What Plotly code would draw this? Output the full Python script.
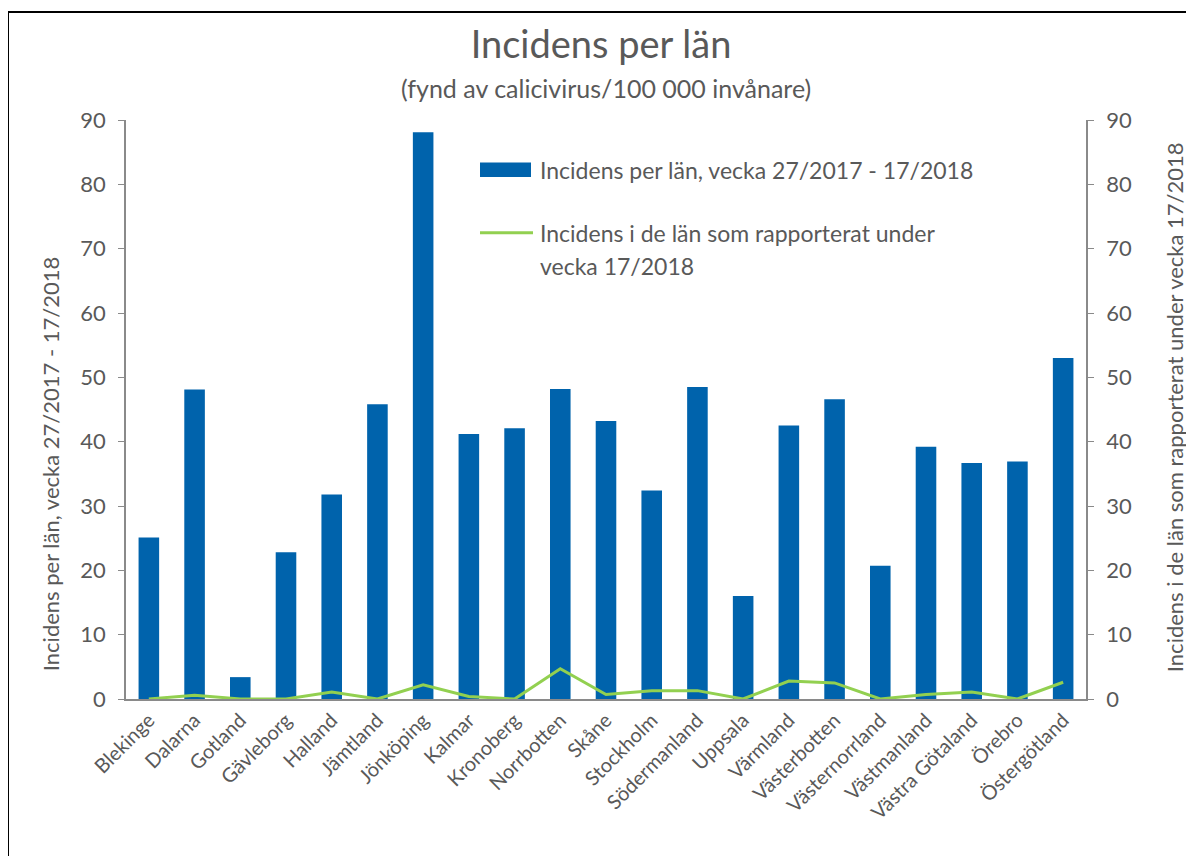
import plotly.graph_objects as go

lan = ["Blekinge", "Dalarna", "Gotland", "Gävleborg", "Halland", "Jämtland", "Jönköping",
       "Kalmar", "Kronoberg", "Norrbotten", "Skåne", "Stockholm", "Södermanland", "Uppsala",
       "Värmland", "Västerbotten", "Västernorrland", "Västmanland", "Västra Götaland",
       "Örebro", "Östergötland"]
incidens_period = [25.1, 48.1, 3.4, 22.8, 31.8, 45.8, 88.1, 41.2, 42.1, 48.2, 43.2, 32.4,
                   48.5, 16.0, 42.5, 46.6, 20.7, 39.2, 36.7, 36.9, 53.0]
incidens_vecka = [0.0, 0.6, 0.0, 0.0, 1.1, 0.0, 2.2, 0.4, 0.0, 4.7, 0.7, 1.3,
                  1.3, 0.0, 2.8, 2.5, 0.0, 0.7, 1.1, 0.0, 2.6]
y_ticks = [0, 10, 20, 30, 40, 50, 60, 70, 80, 90]
name_bar = "Incidens per län, vecka 27/2017 - 17/2018"
name_line_1 = "Incidens i de län som rapporterat under"
name_line_2 = "vecka 17/2018"

FONT = "Lato"
GREY = "#595959"
AXIS = "#8a8a8a"
BLUE = "#0063AC"
GREEN = "#92D050"

# page body has an 8px margin; layout below is in reference-image pixels
OFF = 8
PL, PR, PT, PB = 126, 1086, 120, 698.7  # plot area in reference pixels
W, H = 1194 - OFF, 856 - OFF


def px(x):
    return (x - PL) / (PR - PL)


def py(y):
    return (PB - y) / (PB - PT)


fig = go.Figure()
fig.add_trace(go.Bar(
    x=lan, y=incidens_period, name=name_bar,
    marker=dict(color=BLUE, line=dict(width=0)), width=0.45, yaxis="y"))
fig.add_trace(go.Scatter(
    x=lan, y=incidens_vecka, mode="lines", name=name_line_1 + " " + name_line_2,
    line=dict(color=GREEN, width=3), yaxis="y2"))


def note(text, x, y, size, angle=0, xanchor="left"):
    return dict(text=text, x=px(x), y=py(y), xref="paper", yref="paper",
                xanchor=xanchor, yanchor="middle", showarrow=False, textangle=angle,
                font=dict(size=size, color=GREY, family=FONT))


annotations = [
    note("(fynd av calicivirus/100 000 invånare)", (PL + PR) / 2, 88, 25, xanchor="center"),
    note(name_bar, 538, 169.5, 23),
    note(name_line_1, 538, 232.5, 23),
    note(name_line_2, 538, 265.5, 23),
    # axis titles
    note(name_bar, 50, 464, 22, angle=-90, xanchor="center"),
    note(name_line_1 + " " + name_line_2, 1174, 407, 22, angle=-90, xanchor="center"),
]

shapes = [
    dict(type="rect", xref="paper", yref="paper", x0=px(480), x1=px(531),
         y0=py(177), y1=py(162.5), line=dict(width=0), fillcolor=BLUE),
    dict(type="line", xref="paper", yref="paper", x0=px(480), x1=px(533),
         y0=py(232.7), y1=py(232.7), line=dict(color=GREEN, width=3)),
    dict(type="rect", xref="paper", yref="paper", x0=px(8), x1=1.3, y0=-0.5, y1=py(12),
         line=dict(color="black", width=2), fillcolor="rgba(0,0,0,0)", layer="above"),
]

fig.update_layout(
    width=W, height=H,
    margin=dict(l=PL - OFF, r=W - (PR - OFF), t=PT - OFF, b=H - (PB - OFF),
                autoexpand=False),
    paper_bgcolor="white", plot_bgcolor="white",
    font=dict(family=FONT, color=GREY),
    title=dict(text="Incidens per län", x=0.5, xref="container", xanchor="center",
               y=1 - (45 - OFF) / H, yref="container", yanchor="middle",
               font=dict(size=38, color=GREY, family=FONT)),
    annotations=annotations,
    shapes=shapes,
    showlegend=False,
    xaxis=dict(showline=True, linecolor=AXIS, linewidth=1.5, ticks="", showgrid=False,
               automargin=False,
               tickangle=-45, tickfont=dict(size=20, color=GREY, family=FONT)),
    yaxis=dict(range=[0, 90], tickvals=y_ticks, showline=True, linecolor=AXIS, linewidth=1.5,
               ticks="outside", ticklen=6, tickcolor=AXIS, showgrid=False, zeroline=False,
               ticklabelstandoff=8, automargin=False,
               tickfont=dict(size=22, color=GREY, family=FONT)),
    yaxis2=dict(range=[0, 90], tickvals=y_ticks, overlaying="y", side="right", showline=True,
                linecolor=AXIS, linewidth=1.5, ticks="outside", ticklen=6, tickcolor=AXIS,
                showgrid=False, zeroline=False, ticklabelstandoff=8, automargin=False,
                tickfont=dict(size=22, color=GREY, family=FONT)),
)

fig.write_html("out.html")
